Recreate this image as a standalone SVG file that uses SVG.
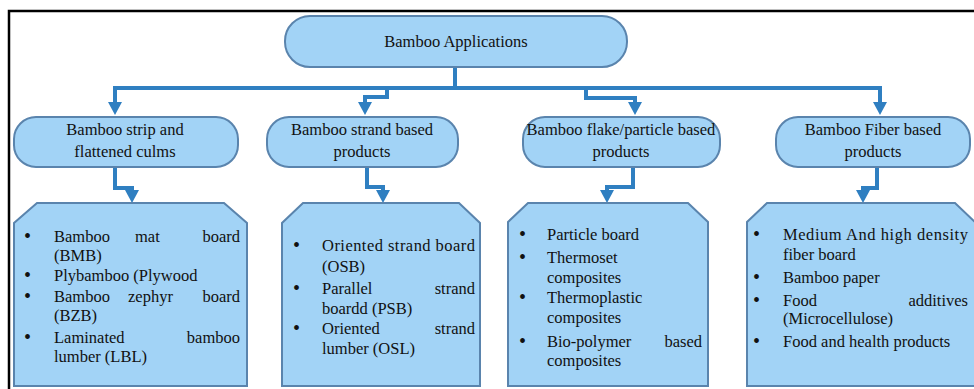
<svg xmlns="http://www.w3.org/2000/svg" width="974" height="389" viewBox="0 0 974 389">
<defs>
<marker id="ah" markerUnits="userSpaceOnUse" markerWidth="14" markerHeight="14" refX="1" refY="7" orient="auto" viewBox="0 0 13 14">
<path d="M0,0 L13,7 L0,14 Z" fill="#2f7fc1"/>
</marker>
<style>
.box{fill:#a2d3f6;stroke:#5a84ad;stroke-width:2}
.conn{fill:none;stroke:#2f7fc1;stroke-width:4;stroke-linejoin:miter}
.c{text-anchor:middle}
.e{text-anchor:end}
</style>
</defs>
<rect x="0" y="0" width="974" height="389" fill="#fff"/>
<path d="M9,389 L9,11 L974,11" fill="none" stroke="#000" stroke-width="2.5"/>

<g id="connectors">
<path class="conn" d="M455,67 L455,88"/>
<path class="conn" d="M113,88 L882,88"/>
<path class="conn" d="M115,88 L115,103" marker-end="url(#ah)"/>
<path class="conn" d="M387,88 L387,97 L365,97 L365,103" marker-end="url(#ah)"/>
<path class="conn" d="M586,88 L586,98 L635,98 L635,103" marker-end="url(#ah)"/>
<path class="conn" d="M880,88 L880,103" marker-end="url(#ah)"/>
<path class="conn" d="M115,167 L115,188 L132,188 L132,191" marker-end="url(#ah)"/>
<path class="conn" d="M367,167 L367,187 L383,187 L383,191" marker-end="url(#ah)"/>
<path class="conn" d="M633,167 L633,187 L607,187 L607,191" marker-end="url(#ah)"/>
<path class="conn" d="M877,167 L877,188 L863,188 L863,191" marker-end="url(#ah)"/>
</g>

<g font-family="Liberation Serif, Times New Roman, DejaVu Serif, serif" font-size="16.5" fill="#111">
<g id="root">
<rect class="box" x="285" y="16" width="342" height="51" rx="25"/>
<text class="c" x="456" y="47">Bamboo Applications</text>
</g>

<g id="strip">
<rect class="box" x="14" y="117" width="224" height="50" rx="22"/>
<text class="c" x="125" y="135">Bamboo strip and</text>
<text class="c" x="125" y="157">flattened culms</text>
</g>
<g id="strand">
<rect class="box" x="267" y="117" width="191" height="50" rx="22"/>
<text class="c" x="362" y="135">Bamboo strand based</text>
<text class="c" x="362" y="157">products</text>
</g>
<g id="flake">
<rect class="box" x="523" y="117" width="197" height="50" rx="22"/>
<text class="c" x="621" y="135">Bamboo flake/particle based</text>
<text class="c" x="621" y="157">products</text>
</g>
<g id="fiber">
<rect class="box" x="776" y="117" width="194" height="50" rx="22"/>
<text class="c" x="873" y="135">Bamboo Fiber based</text>
<text class="c" x="873" y="157">products</text>
</g>

<g id="strip-list">
<path class="box" d="M14,386 L14,223 L37,203 L224,203 L247,223 L247,386 Z"/>
<text font-size="20" x="24" y="243">•</text>
<text x="54" y="242">Bamboo</text>
<text x="135" y="242">mat</text>
<text class="e" x="240" y="242">board</text>
<text x="54" y="261">(BMB)</text>
<text font-size="20" x="24" y="282">•</text>
<text x="54" y="281">Plybamboo (Plywood</text>
<text font-size="20" x="24" y="303">•</text>
<text x="54" y="302">Bamboo</text>
<text x="128" y="302">zephyr</text>
<text class="e" x="240" y="302">board</text>
<text x="54" y="321">(BZB)</text>
<text font-size="20" x="24" y="344">•</text>
<text x="54" y="343">Laminated</text>
<text class="e" x="240" y="343">bamboo</text>
<text x="54" y="362">lumber (LBL)</text>
</g>

<g id="strand-list">
<path class="box" d="M282,386 L282,223 L303,203 L459,203 L480,223 L480,386 Z"/>
<text font-size="20" x="293" y="252">•</text>
<text x="322" y="251" textLength="153" lengthAdjust="spacing">Oriented strand board</text>
<text x="322" y="272">(OSB)</text>
<text font-size="20" x="293" y="295">•</text>
<text x="322" y="294">Parallel</text>
<text class="e" x="475" y="294">strand</text>
<text x="322" y="314">boardd (PSB)</text>
<text font-size="20" x="293" y="335">•</text>
<text x="322" y="334">Oriented</text>
<text class="e" x="475" y="334">strand</text>
<text x="322" y="354">lumber (OSL)</text>
</g>

<g id="flake-list">
<path class="box" d="M508,386 L508,222 L528,203 L688,203 L708,222 L708,386 Z"/>
<text font-size="20" x="519" y="241">•</text>
<text x="547" y="240">Particle board</text>
<text font-size="20" x="519" y="264">•</text>
<text x="547" y="263">Thermoset</text>
<text x="547" y="283">composites</text>
<text font-size="20" x="519" y="304">•</text>
<text x="547" y="303">Thermoplastic</text>
<text x="547" y="323">composites</text>
<text font-size="20" x="519" y="348">•</text>
<text x="547" y="347">Bio-polymer</text>
<text class="e" x="702" y="347">based</text>
<text x="547" y="366">composites</text>
</g>

<g id="fiber-list">
<path class="box" d="M747,386 L747,222 L767,203 L955,203 L975,222 L975,386 Z"/>
<text font-size="20" x="753" y="241">•</text>
<text x="783" y="240" textLength="185" lengthAdjust="spacing">Medium And high density</text>
<text x="783" y="260">fiber board</text>
<text font-size="20" x="753" y="284">•</text>
<text x="783" y="283">Bamboo paper</text>
<text font-size="20" x="753" y="307">•</text>
<text x="783" y="306">Food</text>
<text class="e" x="968" y="306">additives</text>
<text x="783" y="324">(Microcellulose)</text>
<text font-size="20" x="753" y="348">•</text>
<text x="783" y="347">Food and health products</text>
</g>
</g>
</svg>
